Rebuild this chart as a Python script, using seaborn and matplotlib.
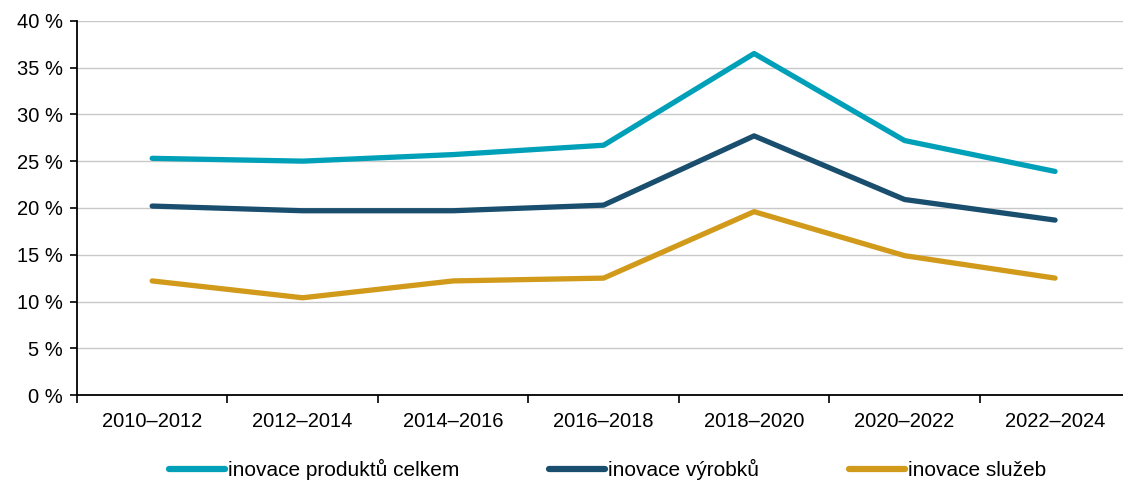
import pandas as pd
import seaborn as sns
import matplotlib.pyplot as plt
from matplotlib.ticker import FixedLocator

# data
periods = ["2010–2012", "2012–2014", "2014–2016", "2016–2018", "2018–2020", "2020–2022", "2022–2024"]
produkty = [25.3, 25.0, 25.7, 26.7, 36.5, 27.2, 23.9]
vyrobky = [20.2, 19.7, 19.7, 20.3, 27.7, 20.9, 18.7]
sluzby = [12.2, 10.4, 12.2, 12.5, 19.6, 14.9, 12.5]

series_names = ["inovace produktů celkem", "inovace výrobků", "inovace služeb"]
colors = ["#00A0B8", "#1A4E6E", "#D19A1A"]

df = pd.DataFrame({
    "period": periods * 3,
    "value": produkty + vyrobky + sluzby,
    "series": [series_names[0]] * 7 + [series_names[1]] * 7 + [series_names[2]] * 7,
})

sns.set_style("white")
plt.rcParams['font.family'] = ['Liberation Sans', 'DejaVu Sans']
plt.rcParams['text.color'] = 'black'
plt.rcParams['xtick.color'] = 'black'
plt.rcParams['ytick.color'] = 'black'

fig = plt.figure(figsize=(11.23, 4.83), dpi=100)
ax = fig.add_axes([0.0685, 0.182, 0.938, 0.775])

sns.lineplot(data=df, x="period", y="value", hue="series", palette=colors,
             linewidth=3.8, sort=False, ax=ax)

ax.set_xlim(-0.5, 6.5)
ax.set_ylim(0, 40)
ax.set_yticks(range(0, 41, 5))
ax.set_yticklabels([f"{v} %" for v in range(0, 41, 5)], fontsize=14.5)
ax.yaxis.grid(True, color="#C8C8C8", linewidth=1)
ax.set_axisbelow(True)

ax.set_xticks(range(7))
ax.set_xticklabels(periods, fontsize=14.5)
ax.xaxis.set_minor_locator(FixedLocator([i - 0.5 for i in range(8)]))
ax.tick_params(axis="x", which="major", length=0, pad=12)
ax.tick_params(axis="x", which="minor", length=6, width=1.2, direction="out", bottom=True)
ax.tick_params(axis="y", length=5, width=1.2, direction="out", left=True, pad=5)

for s in ["top", "right"]:
    ax.spines[s].set_visible(False)
for s in ["left", "bottom"]:
    ax.spines[s].set_color("black")
    ax.spines[s].set_linewidth(1.3)

ax.set_xlabel("")
ax.set_ylabel("")

leg = ax.legend(loc="center", bbox_to_anchor=(0.541, 0.028), bbox_transform=fig.transFigure,
                ncol=3, frameon=False, fontsize=15, handlelength=2.7, handletextpad=0.15,
                columnspacing=4.3)
for line in leg.get_lines():
    line.set_linewidth(4.5)
    line.set_solid_capstyle("round")

plt.savefig("out.png", dpi=100)
